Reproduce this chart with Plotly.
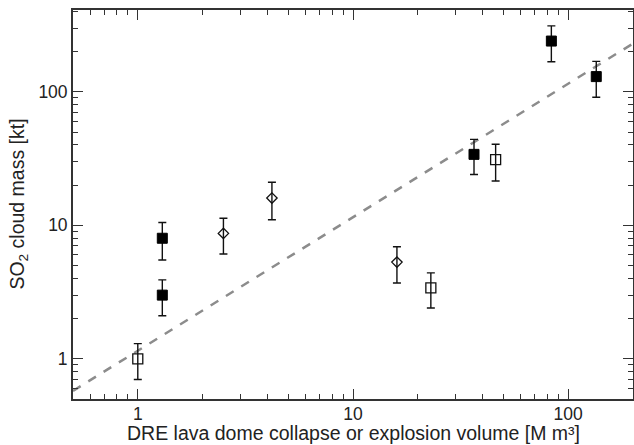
import numpy as np
import plotly.graph_objects as go

# Filled squares
fill_x = [1.3, 1.3, 36.5, 83.5, 135]
fill_y = [8.0, 3.0, 34, 240, 130]
fill_err = [2.5, 0.9, 10, 72, 39]

# Open squares
open_x = [1.0, 23, 46]
open_y = [1.0, 3.4, 31]
open_err = [0.3, 1.0, 9.5]

# Open diamonds
dia_x = [2.5, 4.2, 16]
dia_y = [8.7, 16, 5.3]
dia_err = [2.6, 5.0, 1.6]

# Dashed reference line y = a * x
fit_coef = 1.15
fit_x = [0.5, 200]
fit_y = [fit_coef * v for v in fit_x]

x_ticks = [1, 10, 100]
x_ticklabels = ["1", "10", "100"]
y_ticks = [1, 10, 100]
y_ticklabels = ["1", "10", "100"]

x_title = "DRE lava dome collapse or explosion volume [M m³]"
y_title = "SO<sub>2</sub> cloud mass [kt]"

FONT = "Liberation Sans, Arial, sans-serif"

fig = go.Figure()
fig.add_trace(go.Scatter(x=fit_x, y=fit_y, mode="lines",
                         line=dict(color="#8c8c8c", width=2.5, dash="dash"),
                         hoverinfo="skip", showlegend=False))

err_style = dict(type="data", visible=True, color="#111111", thickness=1.4, width=4)

fig.add_trace(go.Scatter(x=fill_x, y=fill_y, mode="markers",
                         marker=dict(symbol="square", size=10, color="black",
                                     line=dict(color="black", width=1)),
                         error_y=dict(array=fill_err, **err_style), showlegend=False))
fig.add_trace(go.Scatter(x=open_x, y=open_y, mode="markers",
                         marker=dict(symbol="square-open", size=10, color="#111111",
                                     line=dict(color="#111111", width=1.3)),
                         error_y=dict(array=open_err, **err_style), showlegend=False))
fig.add_trace(go.Scatter(x=dia_x, y=dia_y, mode="markers",
                         marker=dict(symbol="diamond-open", size=8, color="#111111",
                                     line=dict(color="#111111", width=1.3)),
                         error_y=dict(array=dia_err, **err_style), showlegend=False))

axis_common = dict(
    type="log", showgrid=False, zeroline=False,
    showline=True, linecolor="#333333", linewidth=1.8, mirror="allticks",
    ticks="inside", ticklen=10, tickwidth=1.3, tickcolor="#333333",
    minor=dict(ticks="inside", ticklen=5, tickwidth=1.1, tickcolor="#333333",
               dtick="D1", showgrid=False),
    tickfont=dict(family=FONT, size=17.5, color="#222222"),
)

fig.update_xaxes(range=[np.log10(0.5), np.log10(200)], tickvals=x_ticks, ticktext=x_ticklabels,
                 ticklabelstandoff=-2, **axis_common)
fig.update_yaxes(range=[np.log10(0.5), np.log10(410)], tickvals=y_ticks, ticktext=y_ticklabels,
                 **axis_common)

title_font = dict(family=FONT, size=19.5, color="#222222")
fig.add_annotation(text=x_title, xref="paper", yref="paper", x=0.5, y=-0.0885,
                   xanchor="center", yanchor="middle", showarrow=False, font=title_font)
fig.add_annotation(text=y_title, xref="paper", yref="paper", x=-0.098, y=0.5,
                   xanchor="center", yanchor="middle", textangle=-90, showarrow=False,
                   font=title_font)

fig.update_layout(width=634, height=445, margin=dict(l=73, r=1, t=10, b=46, autoexpand=False),
                  paper_bgcolor="white", plot_bgcolor="white")

fig.write_html("out.html", config={"displayModeBar": False},
               post_script="document.body.style.margin='0';document.body.style.overflow='hidden';")
